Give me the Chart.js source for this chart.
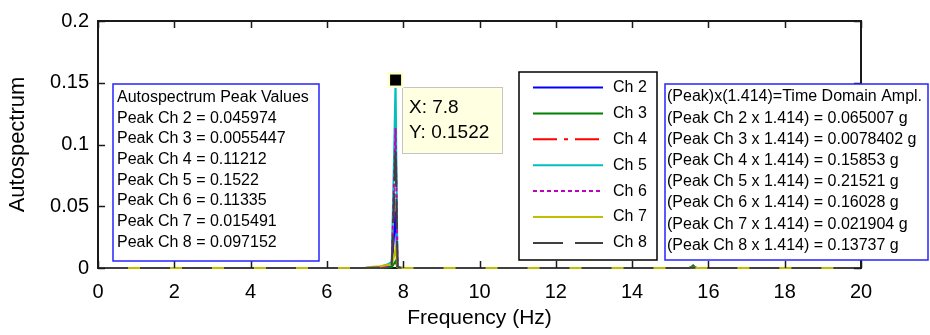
<!DOCTYPE html>
<html><head><meta charset="utf-8">
<script src="https://cdn.jsdelivr.net/npm/chart.js@4/dist/chart.umd.min.js"></script>
<style>html,body{margin:0;padding:0;background:#fff;}canvas{display:block;}</style>
</head><body>
<canvas id="c" width="930" height="335"></canvas>
<script>
// ---- data ----
const freqHz = [0, 2, 4, 6, 7.0, 7.2, 7.4, 7.5, 7.6, 7.7, 7.75, 7.8, 7.85, 7.9, 8.0, 10, 12, 14, 15.4, 15.5, 15.55, 15.6, 15.65, 15.7, 16, 18, 20];
const ch2 = [0, 0, 0, 0, 0, 0.0001, 0.0002, 0.0004, 0.0007, 0.0015, 0.022, 0.045974, 0.0008, 0.0002, 0.0001, 0, 0, 0, 0, 0.0001, 0.0002, 0.0005, 0.0002, 0.0001, 0, 0, 0];
const ch3 = [0, 0, 0, 0, 0, 0.0001, 0.0002, 0.0003, 0.0005, 0.0008, 0.003, 0.0055447, 0.0004, 0.0001, 0, 0, 0, 0, 0, 0.0002, 0.0008, 0.0022, 0.0006, 0.0001, 0, 0, 0];
const ch4 = [0, 0, 0, 0, 0, 0.0002, 0.0005, 0.0008, 0.0015, 0.003, 0.05, 0.11212, 0.0015, 0.0004, 0.0001, 0, 0, 0, 0, 0.0001, 0.0002, 0.0006, 0.0002, 0.0001, 0, 0, 0];
const ch5 = [0, 0, 0, 0, 0, 0.0004, 0.001, 0.002, 0.003, 0.005, 0.077, 0.1522, 0.002, 0.0005, 0.0001, 0, 0, 0, 0, 0.0001, 0.0003, 0.0008, 0.0003, 0.0001, 0, 0, 0];
const ch6 = [0, 0, 0, 0, 0, 0.0002, 0.0005, 0.0008, 0.0015, 0.003, 0.06, 0.11335, 0.0015, 0.0004, 0.0001, 0, 0, 0, 0, 0.0001, 0.0002, 0.0006, 0.0002, 0.0001, 0, 0, 0];
const ch7 = [0, 0, 0, 0, 0.0003, 0.001, 0.0015, 0.002, 0.0025, 0.003, 0.008, 0.015491, 0.0008, 0.0002, 0, 0, 0, 0, 0, 0.0001, 0.0002, 0.0007, 0.0002, 0.0001, 0, 0, 0];
const ch8 = [0, 0, 0, 0, 0, 0.0002, 0.0004, 0.0007, 0.0012, 0.0025, 0.045, 0.097152, 0.0012, 0.0003, 0.0001, 0, 0, 0, 0, 0.0001, 0.0002, 0.0006, 0.0002, 0.0001, 0, 0, 0];
const channelNames = ['Ch 2', 'Ch 3', 'Ch 4', 'Ch 5', 'Ch 6', 'Ch 7', 'Ch 8'];
const xTicks = [0, 2, 4, 6, 8, 10, 12, 14, 16, 18, 20];
const yTicks = [0, 0.05, 0.1, 0.15, 0.2];
const yTickLabels = ['0', '0.05', '0.1', '0.15', '0.2'];
const peakLines = ['Autospectrum Peak Values', 'Peak Ch 2 = 0.045974', 'Peak Ch 3 = 0.0055447', 'Peak Ch 4 = 0.11212', 'Peak Ch 5 = 0.1522', 'Peak Ch 6 = 0.11335', 'Peak Ch 7 = 0.015491', 'Peak Ch 8 = 0.097152'];
const amplLines = ['(Peak)x(1.414)=Time Domain Ampl.', '(Peak Ch 2 x 1.414) = 0.065007 g', '(Peak Ch 3 x 1.414) = 0.0078402 g', '(Peak Ch 4 x 1.414) = 0.15853 g', '(Peak Ch 5 x 1.414) = 0.21521 g', '(Peak Ch 6 x 1.414) = 0.16028 g', '(Peak Ch 7 x 1.414) = 0.021904 g', '(Peak Ch 8 x 1.414) = 0.13737 g'];
const tipX = 7.8, tipY = 0.1522;
const tipLines = ['X: 7.8', 'Y: 0.1522'];

// ---- styles ----
const seriesValues = [ch2, ch3, ch4, ch5, ch6, ch7, ch8];
const colors = ['#0000ff', '#008000', '#ff0000', '#00bfbf', '#bf00bf', '#bfbf00', '#404040'];
const dashes = [[], [], [24, 7, 4, 7], [], [4, 3], [], [30, 12]];
const FONT = '"Liberation Sans", Arial, sans-serif';

const datasets = seriesValues.map((vals, i) => ({
  label: channelNames[i],
  data: freqHz.map((f, k) => ({ x: f, y: vals[k] })),
  borderColor: colors[i],
  borderWidth: 2,
  borderDash: dashes[i],
  pointRadius: 0,
  tension: 0,
  clip: 6,
  order: seriesValues.length - i
}));

function line(ctx, x1, y1, x2, y2) { ctx.beginPath(); ctx.moveTo(x1, y1); ctx.lineTo(x2, y2); ctx.stroke(); }

const overlay = {
  id: 'overlay',
  afterDatasetsDraw(chart) {
    const { ctx, chartArea: a, scales: { x, y } } = chart;
    ctx.save();
    ctx.strokeStyle = '#1a1a1a'; ctx.lineWidth = 2;
    ctx.beginPath(); ctx.moveTo(a.left, a.top); ctx.lineTo(a.right, a.top); ctx.lineTo(a.right, a.bottom); ctx.stroke();
    ctx.lineWidth = 1.5;
    xTicks.forEach(v => { const px = Math.round(x.getPixelForValue(v)) + 0.5; line(ctx, px, a.bottom, px, a.bottom - 7); line(ctx, px, a.top, px, a.top + 7); });
    yTicks.forEach(v => { const py = Math.round(y.getPixelForValue(v)) + 0.5; line(ctx, a.left, py, a.left + 7, py); line(ctx, a.right, py, a.right - 7, py); });

    // left text box
    ctx.fillStyle = '#fff'; ctx.fillRect(113, 84, 206, 177);
    ctx.strokeStyle = '#2424ff'; ctx.lineWidth = 1.5; ctx.strokeRect(113, 84, 206, 177);
    ctx.fillStyle = '#000'; ctx.font = '16px ' + FONT; ctx.textBaseline = 'middle'; ctx.textAlign = 'left';
    peakLines.forEach((t, i) => ctx.fillText(t, 117, 97.5 + i * 20.7));

    // legend
    ctx.fillStyle = '#fff'; ctx.fillRect(519, 72, 138, 188);
    ctx.strokeStyle = '#000'; ctx.lineWidth = 1.5; ctx.strokeRect(519, 72, 138, 188);
    channelNames.forEach((n, i) => {
      const cy = 87.5 + i * 25.9;
      ctx.strokeStyle = colors[i]; ctx.lineWidth = 2; ctx.setLineDash(dashes[i]);
      line(ctx, 533, cy, 603, cy);
      ctx.setLineDash([]);
      ctx.fillStyle = '#000'; ctx.fillText(n, 613, cy);
    });

    // right text box
    ctx.fillStyle = '#fff'; ctx.fillRect(665, 84, 263, 176);
    ctx.strokeStyle = '#2424ff'; ctx.lineWidth = 1.5; ctx.strokeRect(665, 84, 263, 176);
    ctx.fillStyle = '#000';
    amplLines.forEach((t, i) => ctx.fillText(t, 667, 97 + i * 21.2));

    // data tip
    const mx = x.getPixelForValue(tipX), my = y.getPixelForValue(tipY);
    ctx.fillStyle = '#ffffe1'; ctx.fillRect(402, 87, 101, 67);
    ctx.strokeStyle = '#c4c4c4'; ctx.lineWidth = 1; ctx.strokeRect(402.5, 87.5, 100, 66);
    ctx.fillStyle = '#ffffcc'; ctx.fillRect(mx - 8, my - 8, 16, 16);
    ctx.fillStyle = '#000'; ctx.fillRect(mx - 5.5, my - 5.5, 11, 11);
    ctx.font = '19px ' + FONT;
    tipLines.forEach((t, i) => ctx.fillText(t, 409, 108 + i * 24.5));
    ctx.restore();
  }
};

new Chart(document.getElementById('c'), {
  type: 'line',
  data: { datasets },
  options: {
    responsive: false, animation: false, events: [],
    layout: { padding: { top: 19, right: 69, left: 0, bottom: 0 } },
    plugins: { legend: { display: false }, tooltip: { enabled: false } },
    scales: {
      x: {
        type: 'linear', min: 0, max: 20,
        afterBuildTicks: s => { s.ticks = xTicks.map(v => ({ value: v })); },
        afterFit: s => { s.height = 67; },
        grid: { display: false, drawTicks: false },
        border: { display: true, color: '#1a1a1a', width: 2 },
        ticks: { color: '#000', font: { family: FONT, size: 20 }, padding: 12, maxRotation: 0, callback: v => String(v) },
        title: { display: true, text: 'Frequency (Hz)', color: '#000', font: { family: FONT, size: 21 }, padding: { top: 0, bottom: 4 } }
      },
      y: {
        type: 'linear', min: 0, max: 0.2,
        afterBuildTicks: s => { s.ticks = yTicks.map(v => ({ value: v })); },
        afterFit: s => { s.width = 98; },
        grid: { display: false, drawTicks: false },
        border: { display: true, color: '#1a1a1a', width: 2 },
        ticks: { color: '#000', font: { family: FONT, size: 20 }, padding: 9, callback: (v, i) => yTickLabels[yTicks.indexOf(v)] ?? '' },
        title: { display: true, text: 'Autospectrum', color: '#000', font: { family: FONT, size: 22 }, padding: { top: 5, bottom: 0 } }
      }
    }
  },
  plugins: [overlay]
});
</script>
</body></html>
